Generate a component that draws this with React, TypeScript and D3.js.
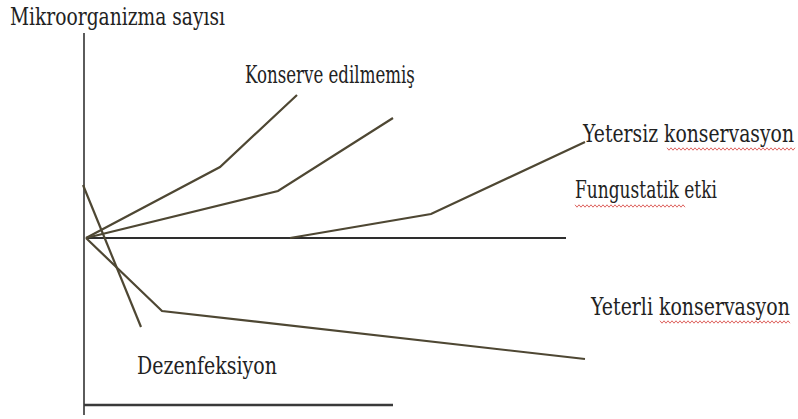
import React, { useLayoutEffect, useRef, useState } from "react";
import * as d3 from "d3";

const W = 798;
const H = 419;

// time axis (arbitrary units) and log-count axis (arbitrary units)
const konserveT = [0, 2.68, 4.22];
const konserveV = [0, 3.55, 7.15];
const ikinciT = [0, 3.84, 6.14];
const ikinciV = [0, 2.35, 6.0];
const yetersizT = [4.08, 6.9, 9.98];
const yetersizV = [0, 1.2, 4.8];
const fungustatikT = [0, 9.6];
const fungustatikV = [0, 0];
const dezenfeksiyonT = [-0.06, 1.1];
const dezenfeksiyonV = [2.65, -4.45];
const yeterliT = [0, 1.52, 9.98];
const yeterliV = [0, -3.65, -6.05];

const yAxisTop = 10.25;
const yAxisBottom = -8.85;
const xAxisLevel = -8.35;
const xAxisEnd = 6.14;

const labels = ["Konserve edilmemiş", "Yetersiz konservasyon", "Fungustatik etki", "Yeterli konservasyon", "Dezenfeksiyon"];
const title = "Mikroorganizma sayısı";

const x = d3.scaleLinear().domain([0, 10]).range([86, 586]);
const y = d3.scaleLinear().domain([0, 10]).range([238, 38]);

const series = [
  [konserveT, konserveV],
  [ikinciT, ikinciV],
  [yetersizT, yetersizV],
  [dezenfeksiyonT, dezenfeksiyonV],
  [yeterliT, yeterliV],
];

const line = d3
  .line<[number, number]>()
  .x((d) => x(d[0]))
  .y((d) => y(d[1]));

function squiggle(x0: number, x1: number, yy: number) {
  const pts: [number, number][] = [];
  const step = 2;
  let up = true;
  for (let xx = x0; xx <= x1; xx += step) {
    pts.push([xx, yy + (up ? -1.2 : 1.2)]);
    up = !up;
  }
  return d3.line()(pts) || "";
}

const FONT = "DejaVu Serif";

function Label(props: { x: number; y: number; w: number; size?: number; children: string }) {
  const ref = useRef<SVGTextElement>(null);
  const [s, setS] = useState(1);
  useLayoutEffect(() => {
    if (ref.current) {
      const len = ref.current.getComputedTextLength();
      if (len > 0) setS(props.w / len);
    }
  }, [props.w, props.children]);
  return (
    <text
      ref={ref}
      transform={`translate(${props.x},${props.y}) scale(${s},1)`}
      style={{ fontFamily: FONT, fontSize: `${props.size ?? 25}px` }}
      fill="#222"
    >
      {props.children}
    </text>
  );
}

export default function App() {
  const lineColor = "#4e4733";
  return (
    <svg
      width={W}
      height={H}
      style={{ position: "absolute", left: 0, top: 0, background: "#fff" }}
    >
      <rect width={W} height={H} fill="#fff" />
      <line x1={x(-0.04)} x2={x(-0.04)} y1={y(yAxisTop)} y2={y(yAxisBottom)} stroke="#333" strokeWidth={1.6} />
      <line x1={x(-0.04)} x2={x(xAxisEnd)} y1={y(xAxisLevel)} y2={y(xAxisLevel)} stroke="#3a3a3a" strokeWidth={2.4} />
      <path
        d={line(fungustatikT.map((t, i) => [t, fungustatikV[i]]) as [number, number][]) || ""}
        fill="none"
        stroke="#2e2e2e"
        strokeWidth={2.2}
      />
      {series.map(([ts, vs], k) => (
        <path
          key={k}
          d={line(ts.map((t, i) => [t, vs[i]]) as [number, number][]) || ""}
          fill="none"
          stroke={lineColor}
          strokeWidth={2.2}
        />
      ))}
      <Label x={10} y={25} w={215} size={24}>{title}</Label>
      <Label x={245} y={83} w={170}>{labels[0]}</Label>
      <Label x={583} y={142} w={211}>{labels[1]}</Label>
      <Label x={575} y={198} w={142}>{labels[2]}</Label>
      <Label x={591} y={315} w={199}>{labels[3]}</Label>
      <Label x={137} y={374} w={140}>{labels[4]}</Label>
      <g fill="none" stroke="#d9534f" strokeWidth={0.9}>
        <path d={squiggle(667, 795, 149)} />
        <path d={squiggle(575, 685, 206)} />
        <path d={squiggle(660, 791, 322)} />
      </g>
    </svg>
  );
}
